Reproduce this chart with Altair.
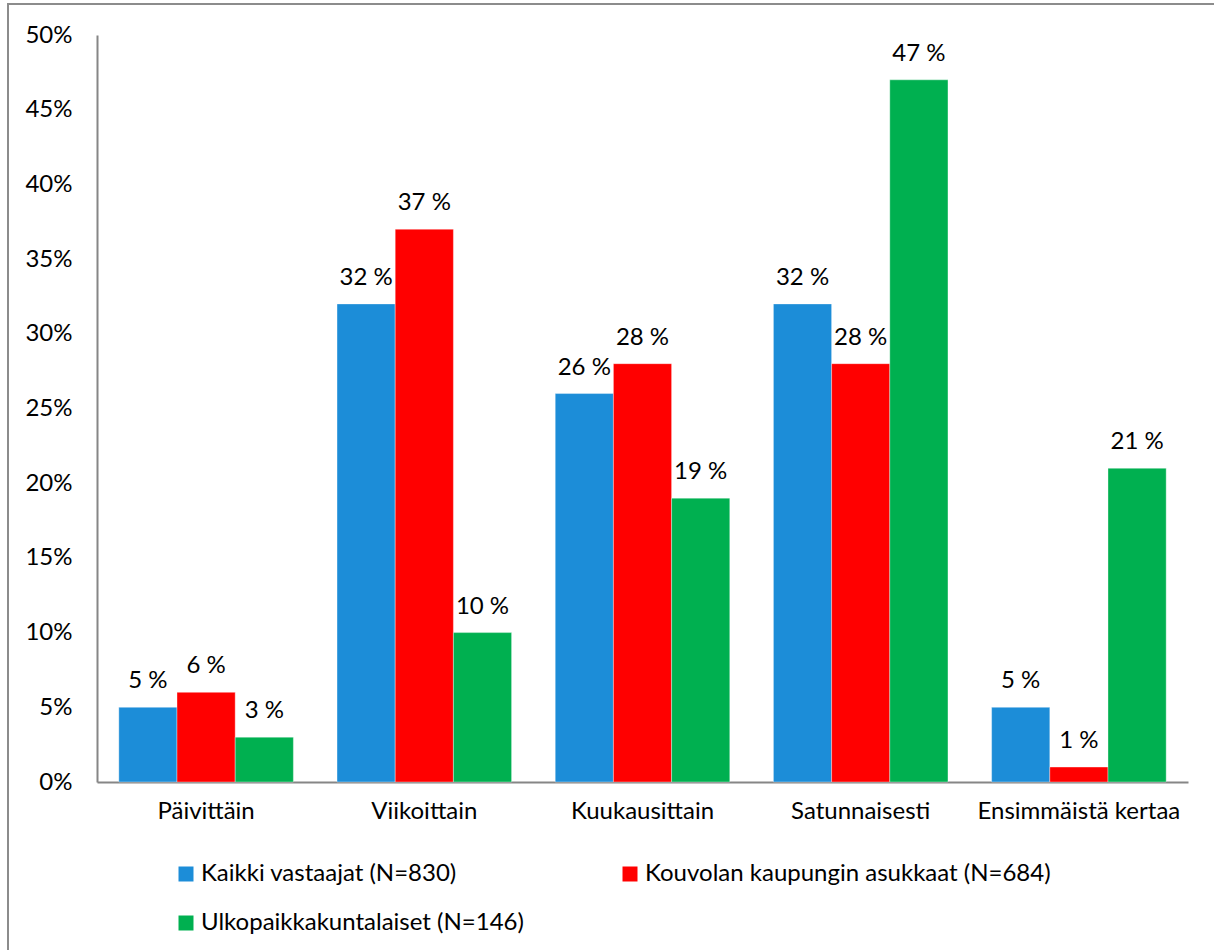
import altair as alt
import pandas as pd

# Visit frequency categories and respondent groups
categories = ["Päivittäin", "Viikoittain", "Kuukausittain", "Satunnaisesti", "Ensimmäistä kertaa"]
groups = ["Kaikki vastaajat (N=830)", "Kouvolan kaupungin asukkaat (N=684)", "Ulkopaikkakuntalaiset (N=146)"]
colors = ["#1C8DD8", "#FF0000", "#00B050"]

# Share of respondents (%) per category, one list per group
kaikki = [5, 32, 26, 32, 5]
kouvola = [6, 37, 28, 28, 1]
ulko = [3, 10, 19, 47, 21]

rows = []
for g, vals in zip(groups, [kaikki, kouvola, ulko]):
    for c, v in zip(categories, vals):
        rows.append({"luokka": c, "ryhma": g, "osuus": v, "teksti": f"{v} %"})
df = pd.DataFrame(rows)

# Legend fills column by column: order entries so the rows read
# "Kaikki | Kouvola" and then "Ulko"
legend_order = [groups[0], groups[2], groups[1]]
legend_colors = [colors[0], colors[2], colors[1]]

FONT = "Lato"
FS = 24

base = alt.Chart(df).encode(
    x=alt.X(
        "luokka:N",
        sort=categories,
        scale=alt.Scale(paddingInner=0.2, paddingOuter=0.1),
        axis=alt.Axis(
            title=None,
            labelAngle=0,
            ticks=False,
            labelPadding=17,
            labelLimit=400,
            domainColor="#868686",
            domainWidth=2,
            labelFontSize=FS,
            labelFont=FONT,
            labelColor="#000000",
        ),
    ),
    xOffset=alt.XOffset("ryhma:N", sort=groups, scale=alt.Scale(paddingInner=0, paddingOuter=0)),
    y=alt.Y(
        "osuus:Q",
        scale=alt.Scale(domain=[0, 50], nice=False),
        axis=alt.Axis(
            title=None,
            values=[0, 5, 10, 15, 20, 25, 30, 35, 40, 45, 50],
            labelExpr="datum.value + '%'",
            grid=False,
            ticks=False,
            labelPadding=25,
            domainColor="#868686",
            domainWidth=2,
            labelFontSize=FS,
            labelFont=FONT,
            labelColor="#000000",
        ),
    ),
)

bars = base.mark_bar(stroke="white", strokeWidth=0.6, strokeOpacity=0.6).encode(
    color=alt.Color(
        "ryhma:N",
        scale=alt.Scale(domain=legend_order, range=legend_colors),
        legend=alt.Legend(
            title=None,
            orient="none",
            legendX=77,
            legendY=827,
            columns=2,
            columnPadding=94,
            rowPadding=25,
            padding=0,
            symbolType="square",
            symbolSize=225,
            symbolStrokeWidth=0,
            labelOffset=3,
            labelFontSize=FS,
            labelFont=FONT,
            labelColor="#000000",
            labelLimit=600,
        ),
    )
)

labels = base.mark_text(
    baseline="alphabetic", align="center", dy=-19, fontSize=FS, font=FONT, color="#000000"
).encode(text="teksti:N")

# Outer frame around the whole chart area
frame = alt.Chart(pd.DataFrame({"k": [0]})).mark_rect(
    fill=None, stroke="#8C8C8C", strokeWidth=2
).encode(
    x=alt.value(-89), x2=alt.value(1300), y=alt.value(-31), y2=alt.value(1000)
)

chart = (
    alt.layer(frame, bars, labels)
    .properties(
        width=1091,
        height=747,
        autosize=alt.AutoSizeParams(type="none"),
        padding={"left": 97, "top": 35, "right": 26, "bottom": 168},
        background="white",
    )
    .configure_view(stroke=None)
)

chart.save("out.html", embed_options={"renderer": "svg", "actions": False})
